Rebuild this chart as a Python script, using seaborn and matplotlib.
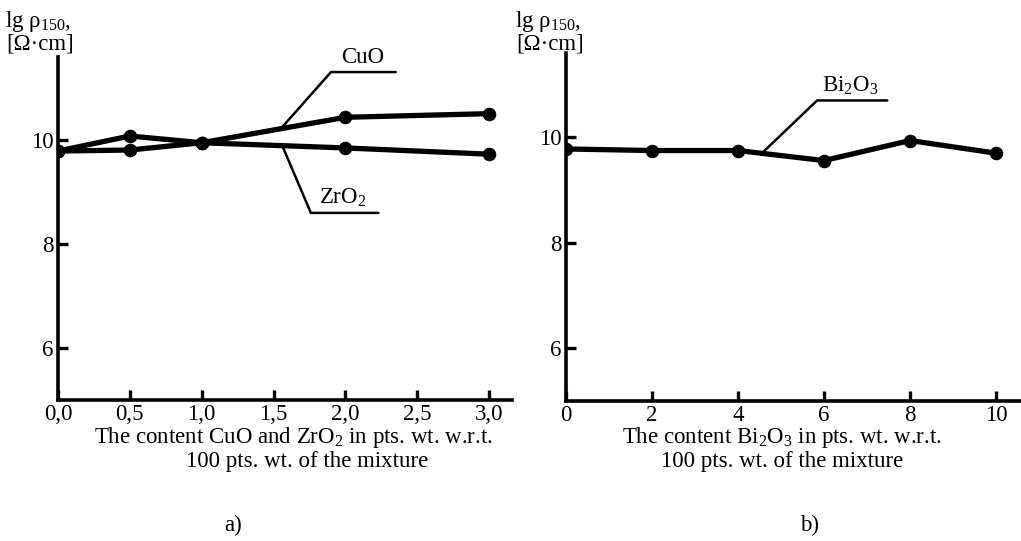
import matplotlib
matplotlib.use("Agg")
import matplotlib.pyplot as plt
import seaborn as sns
import pandas as pd

# ---- data ----
x_a = [0.0, 0.5, 1.0, 2.0, 3.0]
cuo = [9.79, 9.81, 9.95, 10.44, 10.51]
zro2 = [9.79, 10.08, 9.95, 9.85, 9.73]
x_b = [0, 2, 4, 6, 8, 10]
bi2o3 = [9.78, 9.75, 9.75, 9.56, 9.94, 9.70]
xticks_a = [0.0, 0.5, 1.0, 1.5, 2.0, 2.5, 3.0]
xticklabels_a = ["0,0", "0,5", "1,0", "1,5", "2,0", "2,5", "3,0"]
xticks_b = [0, 2, 4, 6, 8, 10]
yticks = [6, 8, 10]

sns.set_style("ticks")
plt.rcParams["font.family"] = ["Liberation Serif", "DejaVu Serif"]
plt.rcParams["mathtext.fontset"] = "custom"
plt.rcParams["mathtext.rm"] = "Liberation Serif"
plt.rcParams["mathtext.it"] = "Liberation Serif:italic"
plt.rcParams["mathtext.default"] = "rm"
plt.rcParams["axes.edgecolor"] = "black"
plt.rcParams["xtick.color"] = "black"
plt.rcParams["ytick.color"] = "black"
plt.rcParams["text.color"] = "black"

FS = 16.5
fig = plt.figure(figsize=(10.21, 5.41), dpi=100)
W, H = 1021, 541
axA = fig.add_axes([58 / W, 1 - 400 / H, (512 - 58) / W, (400 - 57) / H])
axB = fig.add_axes([566 / W, 1 - 401 / H, (1021 - 566) / W, (401 - 53) / H])

dfA = pd.DataFrame({"x": x_a + x_a, "y": cuo + zro2,
                    "s": ["CuO"] * len(x_a) + ["ZrO2"] * len(x_a)})
sns.lineplot(data=dfA, x="x", y="y", units="s", estimator=None, ax=axA,
             color="black", lw=3.8, marker="o", markersize=9, mec="black", mfc="black")
dfB = pd.DataFrame({"x": x_b, "y": bi2o3})
sns.lineplot(data=dfB, x="x", y="y", ax=axB, color="black", lw=3.8,
             marker="o", markersize=9, mec="black", mfc="black")

for ax in (axA, axB):
    ax.set_ylim(5.0, 11.6)
    ax.set_yticks(yticks)
    ax.set_yticklabels([str(v) for v in yticks], fontsize=FS)
    for s in ("top", "right"):
        ax.spines[s].set_visible(False)
    for s in ("left", "bottom"):
        ax.spines[s].set_linewidth(2.6)
    ax.tick_params(direction="in", length=7, width=2.4, labelsize=FS, pad=3)
    ax.set_xlabel("")
    ax.set_ylabel("")
    ax.patch.set_alpha(0)

axA.set_xlim(0, 3.16)
axA.set_xticks(xticks_a)
axA.set_xticklabels(xticklabels_a, fontsize=FS)
axB.set_xlim(0, 10.58)
axB.set_xticks(xticks_b)
axB.set_xticklabels([str(v) for v in xticks_b], fontsize=FS)

# leader lines and labels
axA.plot([1.56, 1.90, 2.35], [10.25, 11.31, 11.31], color="black", lw=1.8, clip_on=False)
axA.text(2.12, 11.38, "CuO", fontsize=FS, ha="center", va="bottom")
axA.plot([1.56, 1.76, 2.23], [9.90, 8.60, 8.60], color="black", lw=1.8, clip_on=False)
axA.text(1.98, 8.67, "ZrO$_2$", fontsize=FS, ha="center", va="bottom")
axB.plot([4.53, 5.84, 7.47], [9.68, 10.70, 10.70], color="black", lw=1.8, clip_on=False)
axB.text(6.6, 10.77, "Bi$_2$O$_3$", fontsize=FS, ha="center", va="bottom")

# y labels
for x0 in (5, 515):
    fig.text(x0 / W, 1 - 22 / H, "lg ρ$_{150}$,", fontsize=FS, ha="left", va="center")
    fig.text((x0 + 1) / W, 1 - 44 / H, "[Ω·cm]", fontsize=FS, ha="left", va="center")

# x labels
fig.text(293 / W, 1 - 438 / H, "The content CuO and ZrO$_2$ in pts. wt. w.r.t.",
         fontsize=FS, ha="center", va="center")
fig.text(307 / W, 1 - 462 / H, "100 pts. wt. of the mixture",
         fontsize=FS, ha="center", va="center")
fig.text(782 / W, 1 - 438 / H, "The content Bi$_2$O$_3$ in pts. wt. w.r.t.",
         fontsize=FS, ha="center", va="center")
fig.text(782 / W, 1 - 462 / H, "100 pts. wt. of the mixture",
         fontsize=FS, ha="center", va="center")

fig.text(233 / W, 1 - 525 / H, "a)", fontsize=FS, ha="center", va="center")
fig.text(810 / W, 1 - 525 / H, "b)", fontsize=FS, ha="center", va="center")

fig.savefig("out.png", dpi=100)
